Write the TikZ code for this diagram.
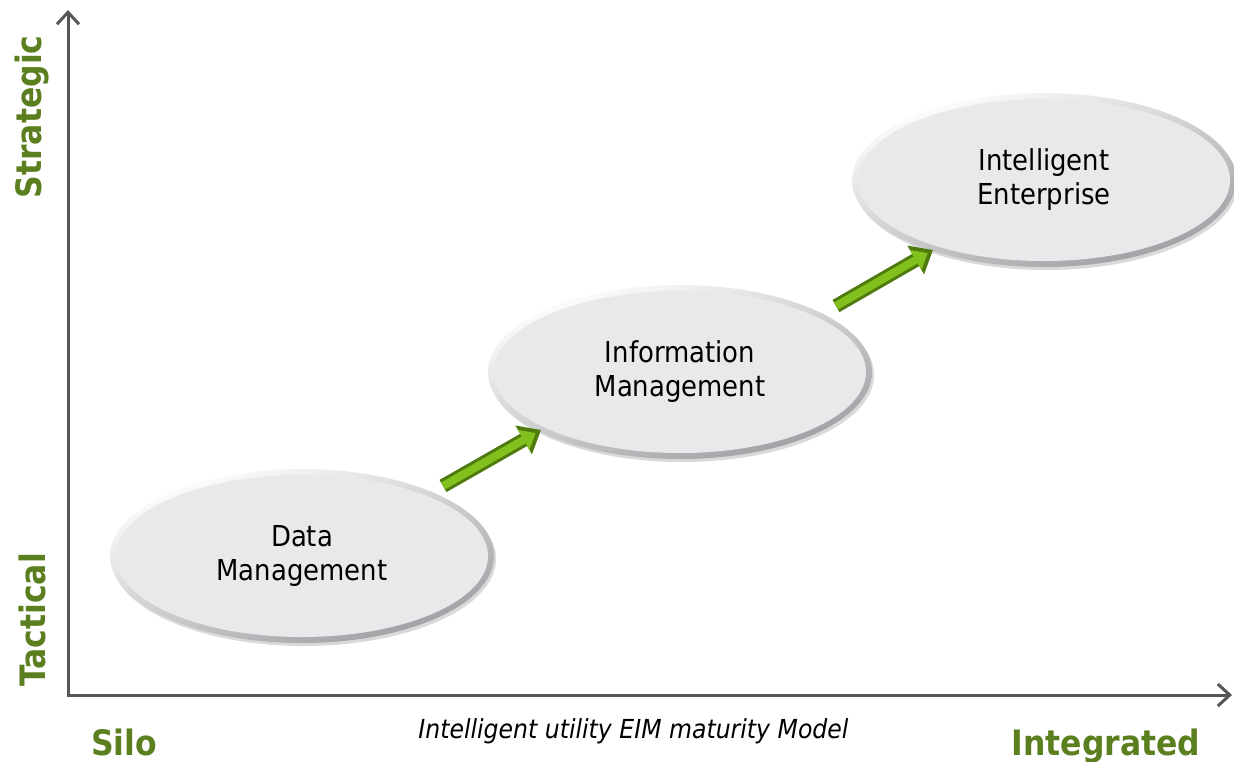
\documentclass[tikz,border=0pt]{standalone}
\usepackage{fontspec}
\setmainfont[FakeStretch=0.9]{DejaVu Sans}
\usetikzlibrary{arrows.meta,shapes.geometric,shadows}
\definecolor{axisgray}{HTML}{55565A}
\definecolor{labelgreen}{HTML}{5B7F1E}
\definecolor{arrowgreen}{HTML}{82C01E}
\definecolor{arrowedge}{HTML}{4E7A0E}
\definecolor{stagefill}{HTML}{E8E9EA}
\definecolor{stageedge}{HTML}{9D9FA2}
\begin{document}
\begin{tikzpicture}[x=0.5pt,y=-0.5pt]
\tikzstyle{every node}+=[inner sep=0pt]
\tikzstyle{stage}=[ellipse, minimum width=192pt, minimum height=87pt, align=center,
  font=\fontsize{14.4}{17}\selectfont,
  top color=white, bottom color=stageedge, shading angle=20,
  drop shadow={shadow xshift=1pt, shadow yshift=-1.5pt, opacity=0.3},
  path picture={\fill[stagefill] (path picture bounding box.center) ellipse (93pt and 40.5pt);}]
\tikzstyle{axislabel}=[text=labelgreen, font=\fontsize{17.5}{20}\selectfont\bfseries]
\tikzstyle{axis}=[draw=axisgray, line width=1.5pt]
\tikzstyle{flow}=[draw=arrowedge, line width=7pt, -{Triangle[width=16pt,length=10pt]},
  postaction={draw=arrowgreen, line width=4pt, shorten >=3pt, -{Triangle[width=11pt,length=7pt]}}]
\useasboundingbox (0,0) rectangle (1234,761);
% axes
\coordinate (ytop) at (68,10);
\coordinate (origin) at (68,695);
\coordinate (xend) at (1232,695);
\draw [axis, {Straight Barb[length=6pt,width=11pt]}-{Straight Barb[length=6pt,width=11pt]}] (ytop) -- (origin) -- (xend);
% stages
\node [stage] (dm) at (302,556) {Data\\Management};
\node [stage] (im) at (680,372) {Information\\Management};
\node [stage] (ie) at (1044,180) {Intelligent\\Enterprise};
% steps between stages
\coordinate (s1a) at (443,486);
\coordinate (s1b) at (541,430);
\coordinate (s2a) at (836,306);
\coordinate (s2b) at (933,250);
\draw [flow] (s1a) -- (s1b);
\draw [flow] (s2a) -- (s2b);
% labels
\node [axislabel, rotate=90] (strat) at (32,117) {Strategic};
\node [axislabel, rotate=90] (tact) at (32,620) {Tactical};
\node [axislabel, anchor=base] (silo) at (124,755) {Silo};
\node [axislabel, anchor=base] (integ) at (1106,755) {Integrated};
\node [anchor=base west, font=\fontsize{13.1}{15}\selectfont\itshape] (caption) at (418,738) {Intelligent utility EIM maturity Model};
\end{tikzpicture}
\end{document}
